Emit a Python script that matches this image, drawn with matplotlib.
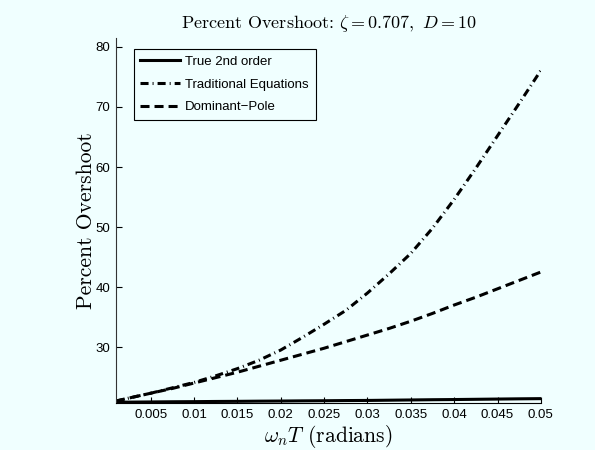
import matplotlib
matplotlib.use("Agg")
import matplotlib.pyplot as plt

# Data
wT = [0.001, 0.0025, 0.005, 0.0075, 0.01, 0.0125, 0.015, 0.0175, 0.02, 0.0225, 0.025,
      0.0275, 0.03, 0.0325, 0.035, 0.0375, 0.04, 0.0425, 0.045, 0.0475, 0.05]
true_po = [20.8, 20.82, 20.85, 20.88, 20.9, 20.93, 20.95, 20.98, 21.0, 21.03, 21.05,
           21.08, 21.1, 21.14, 21.18, 21.22, 21.25, 21.29, 21.33, 21.37, 21.4]
trad_po = [21.0, 21.5, 22.3, 23.2, 24.1, 25.2, 26.4, 27.8, 29.5, 31.6, 33.8,
           36.1, 39.0, 42.2, 45.6, 49.8, 54.6, 59.8, 65.2, 70.6, 76.1]
dom_po = [21.0, 21.5, 22.3, 23.1, 24.0, 24.9, 25.8, 26.8, 27.8, 28.8, 29.8,
          30.9, 32.0, 33.1, 34.3, 35.6, 37.0, 38.3, 39.7, 41.1, 42.5]

xticks = [0.005, 0.01, 0.015, 0.02, 0.025, 0.03, 0.035, 0.04, 0.045, 0.05]
xtick_labels = ["0.005", "0.01", "0.015", "0.02", "0.025", "0.03", "0.035", "0.04", "0.045", "0.05"]
yticks = [30, 40, 50, 60, 70, 80]

plt.rcParams['mathtext.fontset'] = 'cm'
plt.rcParams['lines.scale_dashes'] = False
bg = '#F0FFFF'
sans = ['Liberation Sans', 'DejaVu Sans']

fig = plt.figure(figsize=(5.95, 4.5), dpi=100, facecolor=bg)
ax = fig.add_axes([0.195, 0.1044, 0.714, 0.8112], facecolor=bg)

ax.plot(wT, true_po, color='black', lw=2.2, label='True 2nd order')
l2, = ax.plot(wT, trad_po, color='black', lw=2.2, label='Traditional Equations')
l2.set_dashes([5.8, 2.9, 0.7, 2.9])
l3, = ax.plot(wT, dom_po, color='black', lw=2.2, label='Dominant\u2212Pole')
l3.set_dashes([6.5, 3.6])

ax.set_xlim(0.001, 0.05)
ax.set_ylim(20.67, 81.5)
ax.set_xticks(xticks)
ax.set_xticklabels(xtick_labels)
ax.set_yticks(yticks)
for lab in ax.get_xticklabels() + ax.get_yticklabels():
    lab.set_fontfamily(sans)
    lab.set_fontsize(9.5)
ax.tick_params(direction='in', length=4, width=0.8, color='black', pad=4)
ax.spines['top'].set_visible(False)
ax.spines['right'].set_visible(False)
ax.spines['left'].set_color('#333333')
ax.spines['bottom'].set_color('black')

ax.set_title(r'Percent Overshoot: $\zeta = 0.707,\ D = 10$', fontfamily='cmr10', fontsize=13, pad=7)
ax.set_ylabel('Percent Overshoot', fontfamily='cmr10', fontsize=15.5, labelpad=0)
ax.set_xlabel(r'$\omega_n T$ (radians)', fontfamily='cmr10', fontsize=15.5, labelpad=1.5)

leg = ax.legend(loc='upper left', bbox_to_anchor=(0.042, 0.97), prop={'family': sans, 'size': 9.5},
                frameon=True, fancybox=False, edgecolor='black', facecolor=bg, framealpha=1,
                handlelength=3.0, handletextpad=0.4, borderaxespad=0, borderpad=0.5,
                labelspacing=0.8)
leg.get_frame().set_linewidth(0.8)

fig.savefig('out.png', dpi=100, facecolor=bg)
